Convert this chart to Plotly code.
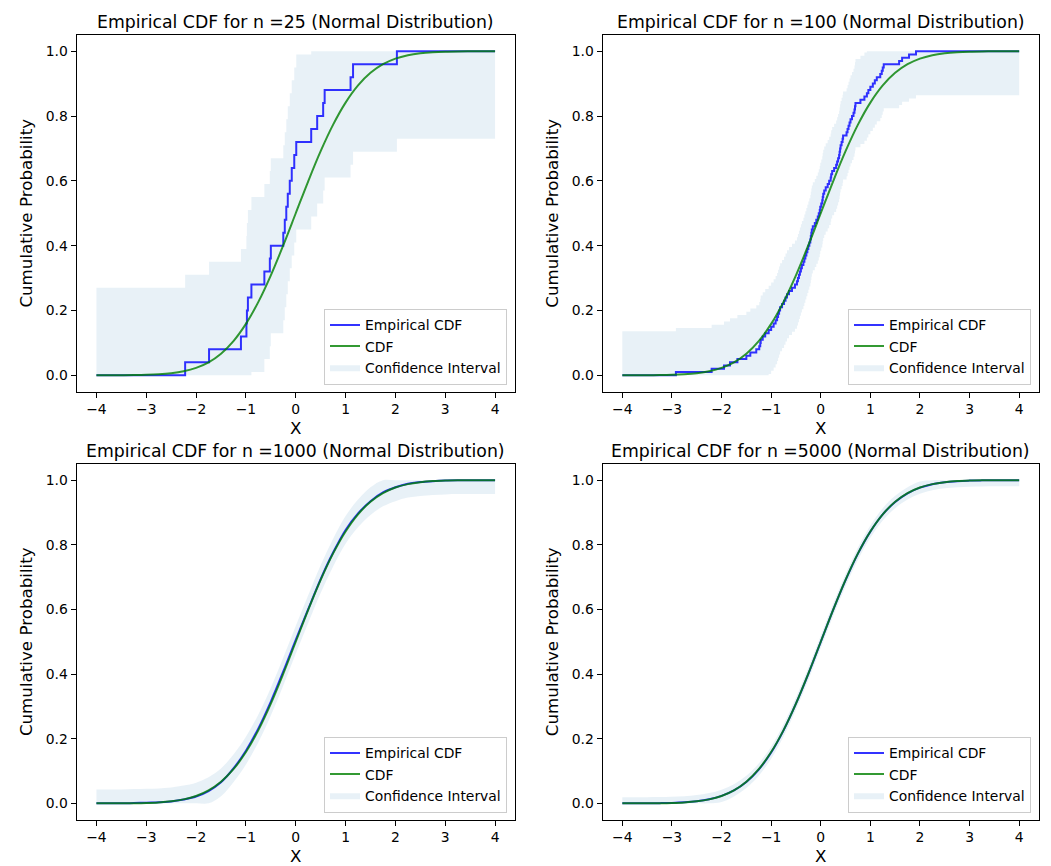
import plotly.graph_objects as go

# ---------------- data ----------------
N_VALUES = [25, 100, 1000, 5000]
TITLES = ["Empirical CDF for n =25 (Normal Distribution)",
          "Empirical CDF for n =100 (Normal Distribution)",
          "Empirical CDF for n =1000 (Normal Distribution)",
          "Empirical CDF for n =5000 (Normal Distribution)"]
# half-width of the confidence band, as read at the tails of each panel
BAND_HALF_WIDTH = [0.27, 0.136, 0.043, 0.019]

X_MIN, X_MAX = -4.0, 4.0

# sorted samples behind the step ECDFs
SAMPLES_25 = [-2.22, -1.74, -1.10, -0.99, -0.98, -0.96, -0.89, -0.63, -0.52, -0.50,
              -0.25, -0.22, -0.19, -0.16, -0.12, -0.08, -0.03, 0.01, 0.31, 0.43,
              0.55, 0.58, 1.10, 1.15, 2.03]
SAMPLES_100 = [-2.92, -2.20, -1.95, -1.83, -1.68, -1.50, -1.42, -1.30, -1.24, -1.22,
               -1.21, -1.17, -1.12, -1.05, -1.00, -0.95, -0.91, -0.88, -0.86, -0.84,
               -0.82, -0.78, -0.74, -0.71, -0.68, -0.64, -0.58, -0.52, -0.48, -0.46,
               -0.44, -0.42, -0.40, -0.38, -0.35, -0.33, -0.31, -0.29, -0.27, -0.25,
               -0.23, -0.21, -0.20, -0.19, -0.18, -0.16, -0.12, -0.09, -0.06, -0.04,
               -0.02, -0.01, 0.01, 0.03, 0.04, 0.05, 0.07, 0.10, 0.14, 0.17,
               0.20, 0.21, 0.23, 0.27, 0.31, 0.33, 0.35, 0.37, 0.38, 0.39,
               0.40, 0.42, 0.44, 0.45, 0.52, 0.54, 0.56, 0.58, 0.60, 0.63,
               0.66, 0.68, 0.69, 0.70, 0.80, 0.88, 0.93, 0.96, 1.00, 1.05,
               1.09, 1.13, 1.20, 1.23, 1.25, 1.27, 1.58, 1.64, 1.78, 1.92]

# curve sample positions and values for the smooth curves
X_GRID = [-4.0, -3.75, -3.5, -3.25, -3.0, -2.75, -2.5, -2.25, -2.0, -1.75, -1.5,
          -1.25, -1.0, -0.75, -0.5, -0.25, 0.0, 0.25, 0.5, 0.75, 1.0, 1.25,
          1.5, 1.75, 2.0, 2.25, 2.5, 2.75, 3.0, 3.25, 3.5, 3.75, 4.0]
CDF_VALUES = [0.00003, 0.00009, 0.00023, 0.00058, 0.00135, 0.00298, 0.00621,
              0.01222, 0.02275, 0.04006, 0.06681, 0.10565, 0.15866, 0.22663,
              0.30854, 0.40129, 0.5, 0.59871, 0.69146, 0.77337, 0.84134,
              0.89435, 0.93319, 0.95994, 0.97725, 0.98778, 0.99379, 0.99702,
              0.99865, 0.99942, 0.99977, 0.99991, 0.99997]
ECDF_1000 = [0.0, 0.0, 0.0, 0.001, 0.002, 0.003, 0.006, 0.012, 0.021, 0.038, 0.065,
             0.108, 0.163, 0.232, 0.315, 0.408, 0.506, 0.601, 0.694, 0.776, 0.846,
             0.897, 0.935, 0.962, 0.978, 0.989, 0.994, 0.997, 0.999, 1.0, 1.0, 1.0, 1.0]
ECDF_5000 = [0.0, 0.0001, 0.0002, 0.0006, 0.0014, 0.0032, 0.0066, 0.0128, 0.0232,
             0.0402, 0.0662, 0.1046, 0.1572, 0.2258, 0.3084, 0.4006, 0.4994, 0.5984,
             0.6906, 0.7728, 0.8408, 0.8942, 0.9324, 0.9594, 0.9768, 0.9876, 0.9936,
             0.997, 0.9986, 0.9994, 0.9998, 1.0, 1.0]

X_TICKS = [-4, -3, -2, -1, 0, 1, 2, 3, 4]
X_TICK_TEXT = ["\u22124", "\u22123", "\u22122", "\u22121", "0", "1", "2", "3", "4"]
Y_TICKS = [0.0, 0.2, 0.4, 0.6, 0.8, 1.0]
Y_TICK_TEXT = ["0.0", "0.2", "0.4", "0.6", "0.8", "1.0"]

# ---------------- styles / layout ----------------
W, H = 1051, 866
BLUE = "rgba(0,0,255,0.8)"
GREEN = "rgba(0,128,0,0.8)"
BAND = "rgba(31,119,180,0.1)"
FONT = "DejaVu Sans"

# axes boxes in pixels: (left, right, top, bottom)
BOXES = [(76.5, 515, 35, 391.5), (602.5, 1039, 35, 391.5),
         (76.5, 515, 464, 819.5), (602.5, 1039, 464, 819.5)]


def step_series(samples):
    n = len(samples)
    xs = [X_MIN] + list(samples) + [X_MAX]
    ys = [0.0] + [(k + 1) / n for k in range(n)] + [1.0]
    return xs, ys


fig = go.Figure()
for i, n in enumerate(N_VALUES):
    ax = "" if i == 0 else str(i + 1)
    xa, ya = "x" + ax, "y" + ax
    lg = "legend" if i == 0 else "legend" + str(i + 1)
    if n == 25:
        ex, ey = step_series(SAMPLES_25)
        shape = "hv"
    elif n == 100:
        ex, ey = step_series(SAMPLES_100)
        shape = "hv"
    elif n == 1000:
        ex, ey = X_GRID, ECDF_1000
        shape = "spline"
    else:
        ex, ey = X_GRID, ECDF_5000
        shape = "spline"
    hw = BAND_HALF_WIDTH[i]
    lo = [max(v - hw, 0.0) for v in ey]
    hi = [min(v + hw, 1.0) for v in ey]

    fig.add_trace(go.Scatter(x=ex, y=lo, mode="lines", line=dict(width=0, shape=shape),
                             showlegend=False, hoverinfo="skip", xaxis=xa, yaxis=ya, legend=lg))
    fig.add_trace(go.Scatter(x=ex, y=hi, mode="lines", line=dict(width=0, shape=shape),
                             fill="tonexty", fillcolor=BAND, name="Confidence Interval",
                             legendrank=3, xaxis=xa, yaxis=ya, legend=lg))
    fig.add_trace(go.Scatter(x=ex, y=ey, mode="lines", line=dict(color=BLUE, width=2, shape=shape),
                             name="Empirical CDF", legendrank=1, xaxis=xa, yaxis=ya, legend=lg))
    fig.add_trace(go.Scatter(x=X_GRID, y=CDF_VALUES, mode="lines",
                             line=dict(color=GREEN, width=2, shape="spline"),
                             name="CDF", legendrank=2, xaxis=xa, yaxis=ya, legend=lg))

layout = dict(width=W, height=H, margin=dict(l=0, r=0, t=0, b=0),
              paper_bgcolor="white", plot_bgcolor="white",
              font=dict(family=FONT, size=14, color="black"),
              annotations=[])
for i, (l, r, t, b) in enumerate(BOXES):
    ax = "" if i == 0 else str(i + 1)
    xdom = [l / W, r / W]
    ydom = [1 - b / H, 1 - t / H]
    common = dict(showline=True, linecolor="black", linewidth=1, mirror=True,
                  showgrid=False, zeroline=False, ticks="outside", ticklen=5,
                  tickwidth=1, tickcolor="black", tickfont=dict(size=13.9))
    layout["xaxis" + ax] = dict(domain=xdom, range=[-4.4, 4.4], tickvals=X_TICKS,
                                ticktext=X_TICK_TEXT, anchor="y" + ax,
                                title=dict(text="X", font=dict(size=16.7), standoff=6),
                                **common)
    layout["yaxis" + ax] = dict(domain=ydom, range=[-0.05, 1.05], tickvals=Y_TICKS,
                                ticktext=Y_TICK_TEXT, anchor="x" + ax,
                                title=dict(text="Cumulative Probability", font=dict(size=16.7),
                                           standoff=8),
                                **common)
    lg = "legend" if i == 0 else "legend" + str(i + 1)
    layout[lg] = dict(x=(r - 8) / W, y=1 - (b - 7) / H, xanchor="right", yanchor="bottom",
                      bgcolor="rgba(255,255,255,0.8)", bordercolor="#cccccc", borderwidth=1,
                      font=dict(size=13.9), traceorder="normal", tracegroupgap=0,
                      itemwidth=30)
    layout["annotations"].append(dict(text=TITLES[i], xref="paper", yref="paper",
                                      x=(l + r) / 2 / W, y=1 - (t - 13) / H,
                                      xanchor="center", yanchor="middle", showarrow=False,
                                      font=dict(size=17.3)))
fig.update_layout(**layout)

fig.write_html("out.html", config={"displayModeBar": False},
               post_script="document.body.style.margin='0';")
